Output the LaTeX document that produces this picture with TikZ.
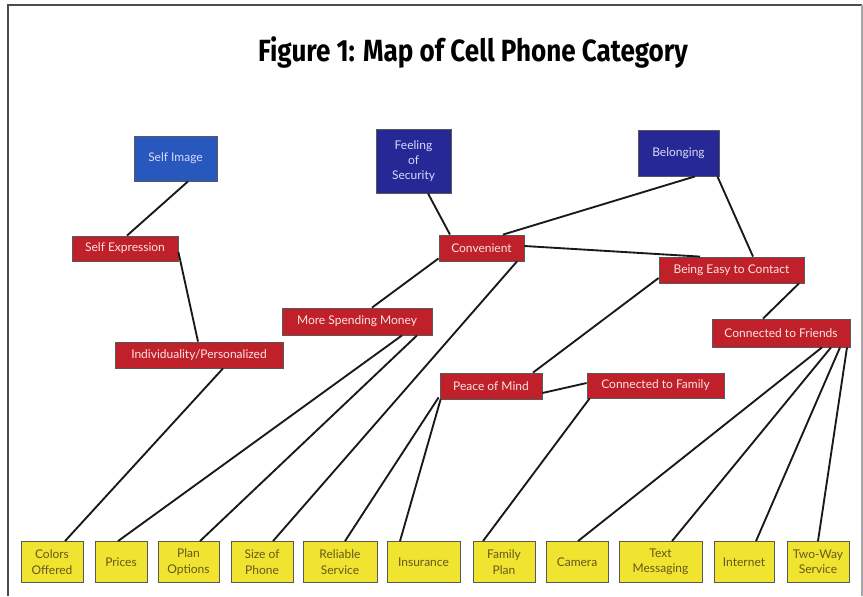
\documentclass[tikz,border=0pt]{standalone}
\usepackage{fontspec}
\setmainfont{Lato}
\newfontfamily\titlefont{Fira Sans}[FakeStretch=0.85]
\usetikzlibrary{calc}
\definecolor{boxred}{RGB}{192,32,42}
\definecolor{selfblue}{RGB}{40,88,190}
\definecolor{darkblue}{RGB}{38,40,150}
\definecolor{boxyellow}{RGB}{240,228,48}
\definecolor{olivetext}{RGB}{100,88,30}
\definecolor{pinkwhite}{RGB}{252,228,228}
\definecolor{lavtext}{RGB}{218,218,250}
\begin{document}
\begin{tikzpicture}[x=0.75pt,y=-0.75pt,
  base/.style={draw=black!65, line width=0.6pt, inner sep=1pt, align=center,
    font=\fontsize{9}{11.5}\selectfont},
  sz/.style 2 args={minimum width=#1*0.75pt, minimum height=#2*0.75pt},
  redbox/.style={base, fill=boxred, text=pinkwhite},
  bluebox/.style={base, fill=darkblue, text=lavtext},
  lightbluebox/.style={base, fill=selfblue, text=lavtext},
  yelbox/.style={base, fill=boxyellow, text=olivetext},
  link/.style={line width=1.4pt, draw=black!90},
  frameline/.style={line width=1.2pt, draw=black!70}]
\useasboundingbox (0,0) rectangle (863,596);
\fill[white] (0,0) rectangle (863,596);
\draw[frameline] (8,596) -- (8,5) -- (862,5);
\draw[line width=0.8pt, draw=black!35] (862,5) -- (862,596);

\node (title) at (473,52) {\titlefont\bfseries\fontsize{23}{26}\selectfont Figure 1: Map of Cell Phone Category};

% top level
\node[lightbluebox, sz={83}{45}] (si) at (175.5,158.5) {Self Image};
\node[bluebox, sz={75}{64}] (fs) at (413.5,161) {Feeling\\of\\Security};
\node[bluebox, sz={81}{46}] (be) at (678.5,153) {Belonging};

% middle level
\node[redbox, sz={106}{25}] (sx) at (125,248.5) {Self Expression};
\node[redbox, sz={168}{26}] (ind) at (199,355) {Individuality/Personalized};
\node[redbox, sz={150}{27}] (msm) at (357,321.5) {More Spending Money};
\node[redbox, sz={85}{26}] (conv) at (481.5,248) {Convenient};
\node[redbox, sz={145}{26}] (bec) at (731.5,270) {Being Easy to Contact};
\node[redbox, sz={138}{28}] (cfr) at (781,333) {Connected to Friends};
\node[redbox, sz={102}{26}] (pom) at (491,386) {Peace of Mind};
\node[redbox, sz={137}{25}] (cfam) at (655.5,385.5) {Connected to Family};

% bottom level
\node[yelbox, sz={62}{41}] (col) at (52,562) {Colors\\Offered};
\node[yelbox, sz={52}{41}] (pri) at (121,562) {Prices};
\node[yelbox, sz={61}{41}] (pla) at (188.5,562) {Plan\\Options};
\node[yelbox, sz={62}{41}] (siz) at (262,562) {Size of\\Phone};
\node[yelbox, sz={74}{41}] (rel) at (340,562) {Reliable\\Service};
\node[yelbox, sz={73}{41}] (ins) at (423.5,562) {Insurance};
\node[yelbox, sz={62}{41}] (fam) at (504,562) {Family\\Plan};
\node[yelbox, sz={62}{41}] (cam) at (577,562) {Camera};
\node[yelbox, sz={83}{41}] (txt) at (660.5,562) {Text\\Messaging};
\node[yelbox, sz={60}{41}] (int) at (744,562) {Internet};
\node[yelbox, sz={62}{41}] (two) at (818,562) {Two-Way\\Service};

% connectors
\draw[link] ($(si.south)+(12.5,0)$) -- ($(sx.north)+(2,0)$);
\draw[link] ($(sx.east)+(0,3.5)$) -- ($(ind.north)+(-1,0)$);
\draw[link] ($(ind.south)+(24,0)$) -- ($(col.north)+(13,0)$);
\draw[link] ($(fs.south)+(14.5,0)$) -- ($(conv.north)+(-31.5,0)$);
\draw[link] ($(conv.north)+(21.5,0)$) -- ($(be.south)+(16.5,0)$);
\draw[link] ($(conv.east)+(0,-2)$) -- ($(bec.north)+(-31.5,0)$);
\draw[link] ($(be.south east)+(-2,0)$) -- ($(bec.north)+(21.5,0)$);
\draw[link] ($(conv.south west)+(0,-3)$) -- ($(msm.north)+(15,0)$);
\draw[link] ($(conv.south)+(35.5,0)$) -- ($(siz.north)+(11,0)$);
\draw[link] ($(msm.south)+(45,0)$) -- ($(pri.north)+(-3,0)$);
\draw[link] ($(msm.south)+(60,0)$) -- ($(pla.north)+(11.5,0)$);
\draw[link] ($(bec.west)+(0,8)$) -- ($(pom.north)+(42,0)$);
\draw[link] ($(bec.south)+(67.5,0)$) -- ($(cfr.north)+(-18,0)$);
\draw[link] ($(pom.east)+(0,7)$) -- ($(cfam.west)+(0,-2.5)$);
\draw[link] ($(pom.south west)+(-1,-2)$) -- ($(rel.north)+(5,0)$);
\draw[link] ($(pom.south west)+(1,0)$) -- ($(ins.north)+(-23.5,0)$);
\draw[link] ($(cfam.south west)+(3,0)$) -- ($(fam.north)+(-21,0)$);
\draw[link] ($(cfr.south)+(41,0)$) -- ($(cam.north)+(1,0)$);
\draw[link] ($(cfr.south)+(50,0)$) -- ($(txt.north)+(11.5,0)$);
\draw[link] ($(cfr.south)+(59,0)$) -- ($(int.north)+(12,0)$);
\draw[link] ($(cfr.south)+(66,0)$) -- ($(two.north)+(0,0)$);
\end{tikzpicture}
\end{document}
